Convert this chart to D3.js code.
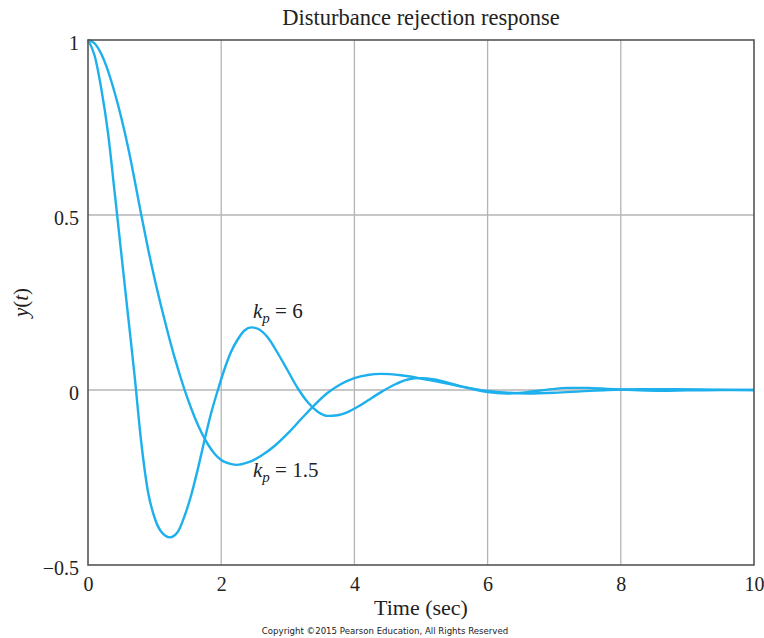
<!DOCTYPE html>
<html>
<head>
<meta charset="utf-8">
<script src="https://cdn.jsdelivr.net/npm/d3@7"></script>
<style>
  html, body { margin: 0; padding: 0; background: #fff; }
  svg { display: block; }
  text { font-family: "Liberation Serif", "Times New Roman", serif; fill: #222; }
</style>
</head>
<body>
<svg id="chart" width="764" height="638"></svg>
<script>
// Disturbance response y(t) for two proportional gains
const timeFast = [0, 0.1, 0.2, 0.3, 0.4, 0.5, 0.6, 0.7, 0.8, 0.9, 1.0, 1.1, 1.23, 1.35, 1.45, 1.55, 1.65, 1.75, 1.85, 1.95, 2.05, 2.15, 2.25, 2.35, 2.45, 2.55, 2.7, 2.85, 3.0, 3.15, 3.3, 3.45, 3.6, 3.75, 3.9, 4.05, 4.2, 4.4, 4.6, 4.8, 5.0, 5.2, 5.4, 5.7, 6.0, 6.3, 6.6, 6.9, 7.2, 7.5, 7.8, 8.2, 8.6, 9.0, 9.5, 10];
const yFast = [1.0, 0.955, 0.86, 0.735, 0.565, 0.39, 0.215, 0.04, -0.15, -0.29, -0.365, -0.405, -0.421, -0.405, -0.36, -0.3, -0.225, -0.143, -0.065, 0.0, 0.06, 0.11, 0.145, 0.17, 0.179, 0.175, 0.15, 0.105, 0.055, 0.005, -0.035, -0.062, -0.074, -0.072, -0.063, -0.048, -0.03, -0.006, 0.015, 0.03, 0.034, 0.03, 0.021, 0.006, -0.006, -0.01, -0.006, 0.001, 0.006, 0.006, 0.003, 0.0, -0.002, -0.001, 0.0, 0.0];

const timeSlow = [0, 0.1, 0.2, 0.3, 0.4, 0.5, 0.6, 0.7, 0.8, 0.9, 1.0, 1.1, 1.2, 1.3, 1.4, 1.5, 1.6, 1.7, 1.8, 1.9, 2.0, 2.1, 2.23, 2.4, 2.6, 2.8, 3.0, 3.2, 3.4, 3.6, 3.8, 4.0, 4.2, 4.4, 4.7, 5.0, 5.3, 5.6, 6.0, 6.3, 6.6, 7.0, 7.4, 7.8, 8.3, 8.8, 9.4, 10];
const ySlow = [1.0, 0.99, 0.96, 0.912, 0.85, 0.778, 0.695, 0.6, 0.5, 0.405, 0.318, 0.238, 0.163, 0.093, 0.03, -0.027, -0.077, -0.12, -0.155, -0.182, -0.2, -0.209, -0.214, -0.207, -0.188, -0.16, -0.124, -0.083, -0.043, -0.008, 0.017, 0.034, 0.043, 0.046, 0.042, 0.033, 0.022, 0.01, -0.003, -0.008, -0.01, -0.008, -0.004, 0.0, 0.002, 0.002, 0.001, 0.0];

const xTicks = [0, 2, 4, 6, 8, 10];
const yTicks = [-0.5, 0, 0.5, 1];
const yTickLabels = ["\u22120.5", "0", "0.5", "1"];

const svg = d3.select("#chart");
const margin = { left: 88, right: 10, top: 40, bottom: 73 };
const W = 764, H = 638;

const x = d3.scaleLinear().domain([0, 10]).range([margin.left, W - margin.right]);
const y = d3.scaleLinear().domain([-0.5, 1]).range([H - margin.bottom, margin.top]);

// grid
const grid = svg.append("g");
grid.selectAll("line.gx").data(xTicks.slice(1, -1)).join("line")
  .attr("x1", d => x(d)).attr("x2", d => x(d))
  .attr("y1", y(1)).attr("y2", y(-0.5))
  .attr("stroke", "#b4b4b4").attr("stroke-width", 1.3);
grid.selectAll("line.gy").data(yTicks.slice(1, -1)).join("line")
  .attr("x1", x(0)).attr("x2", x(10))
  .attr("y1", d => y(d)).attr("y2", d => y(d))
  .attr("stroke", "#b4b4b4").attr("stroke-width", 1.3);

// curves
const line = d3.line().x(d => x(d[0])).y(d => y(d[1])).curve(d3.curveMonotoneX);
const series = [d3.zip(timeFast, yFast), d3.zip(timeSlow, ySlow)];
svg.append("g").selectAll("path").data(series).join("path")
  .attr("d", line)
  .attr("fill", "none")
  .attr("stroke", "#1db0ec")
  .attr("stroke-width", 2.4)
  .attr("stroke-linejoin", "round");

// frame
svg.append("rect")
  .attr("x", x(0)).attr("y", y(1))
  .attr("width", x(10) - x(0)).attr("height", y(-0.5) - y(1))
  .attr("fill", "none").attr("stroke", "#555").attr("stroke-width", 1.6);

// axes
const xAxis = svg.append("g")
  .attr("transform", `translate(0,${y(-0.5)})`)
  .call(d3.axisBottom(x).tickValues(xTicks).tickSize(0).tickPadding(12).tickFormat(d3.format("d")));
xAxis.select(".domain").remove();
xAxis.selectAll("text").attr("font-size", 20).attr("fill", "#222");

const yAxis = svg.append("g")
  .attr("transform", `translate(${x(0)},0)`)
  .call(d3.axisLeft(y).tickValues(yTicks).tickSize(0).tickPadding(9)
    .tickFormat((d, i) => yTickLabels[i]));
yAxis.select(".domain").remove();
yAxis.selectAll("text").attr("font-size", 20).attr("fill", "#222").attr("dy", "0.45em");

// title and axis labels
svg.append("text")
  .attr("x", (x(0) + x(10)) / 2).attr("y", 25)
  .attr("text-anchor", "middle").attr("font-size", 22.5)
  .text("Disturbance rejection response");

svg.append("text")
  .attr("x", (x(0) + x(10)) / 2).attr("y", 615)
  .attr("text-anchor", "middle").attr("font-size", 22)
  .text("Time (sec)");

const yl = svg.append("text")
  .attr("transform", `translate(28,${(y(1) + y(-0.5)) / 2}) rotate(-90)`)
  .attr("text-anchor", "middle").attr("font-size", 21);
yl.append("tspan").attr("font-style", "italic").text("y");
yl.append("tspan").text("(");
yl.append("tspan").attr("font-style", "italic").text("t");
yl.append("tspan").text(")");

// gain annotations
function gainLabel(px, py, value) {
  const t = svg.append("text").attr("x", px).attr("y", py).attr("font-size", 21);
  t.append("tspan").attr("font-style", "italic").text("k");
  t.append("tspan").attr("font-style", "italic").attr("font-size", 15).attr("dy", 5).text("p");
  t.append("tspan").attr("dy", -5).text(" = " + value);
}
gainLabel(253, 318, "6");
gainLabel(253, 477, "1.5");

// copyright line
svg.append("text")
  .attr("x", 385).attr("y", 634)
  .attr("text-anchor", "middle")
  .style("font-family", "'DejaVu Sans', Verdana, sans-serif")
  .style("font-size", "8.6px")
  .text("Copyright \u00a92015 Pearson Education, All Rights Reserved");
</script>
</body>
</html>
